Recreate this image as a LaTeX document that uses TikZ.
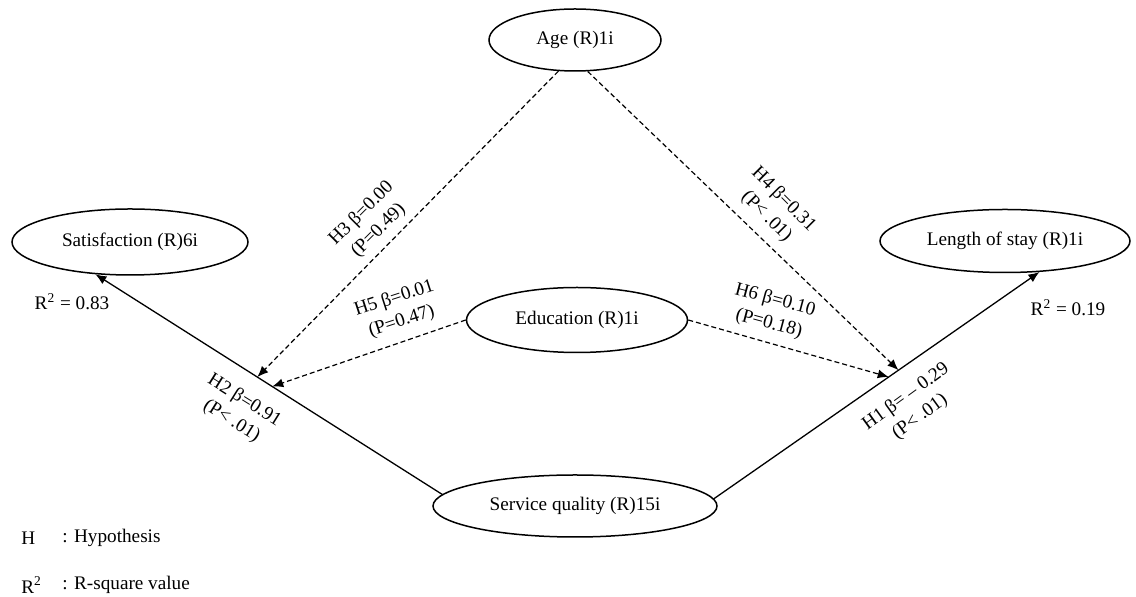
\documentclass[tikz,border=0pt]{standalone}
\usepackage{fontspec}
\setmainfont{Liberation Serif}
\usetikzlibrary{shapes.geometric,arrows.meta}

\begin{document}
\begin{tikzpicture}[
    x=0.5pt,y=-0.5pt,
    every node/.style={font=\fontsize{9.6}{12}\selectfont},
    var/.style={draw,ellipse,line width=0.75pt,inner sep=0pt},
    link/.style={-{Latex[length=5.5pt,width=4.5pt]},line width=0.65pt},
    weak/.style={-{Latex[length=5.5pt,width=4.5pt]},line width=0.6pt,
                 dash pattern=on 2.5pt off 1.5pt},
    coef/.style={align=center,inner sep=0pt},
    key/.style={anchor=west,inner sep=0pt},
  ]
    \useasboundingbox (0,0) rectangle (1136,597);

    % Variables
    \node[var,minimum width=86pt,minimum height=31pt]    (age)  at (575,40)  {Age (R)1i};
    \node[var,minimum width=118pt,minimum height=33pt]   (sat)  at (130,242) {Satisfaction (R)6i};
    \node[var,minimum width=125pt,minimum height=31.5pt] (los)  at (1005,241) {Length of stay (R)1i};
    \node[var,minimum width=110.5pt,minimum height=32.5pt] (edu) at (577,320) {Education (R)1i};
    \node[var,minimum width=142pt,minimum height=31pt]   (serv) at (575,506) {Service quality (R)15i};

    % Direct paths
    \draw[link] (serv.175) -- (sat.223)
      coordinate[pos=0.533] (h3end) coordinate[pos=0.49] (h5end);
    \draw[link] (serv.3) -- (los.318)
      coordinate[pos=0.567] (h4end) coordinate[pos=0.537] (h6end);

    % Moderating paths
    \draw[weak] (age.242) -- (h3end);
    \draw[weak] (age.292) -- (h4end);
    \draw[weak] (edu.west) -- (h5end);
    \draw[weak] (edu.east) -- (h6end);

    % Coefficients
    \node[coef,rotate=-32] (c2) at (238,411) {H2 β=0.91\\(P< .01)};
    \node[coef,rotate=36]  (c1) at (913,407) {H1 β= – 0.29\\(P< .01)};
    \node[coef,rotate=45]  (c3) at (370,222) {H3 β=0.00\\(P=0.49)};
    \node[coef,rotate=-45] (c4) at (775,208) {H4 β=0.31\\(P< .01)};
    \node[coef,rotate=18]  (c5) at (398,310) {H5 β=0.01\\(P=0.47)};
    \node[coef,rotate=-15] (c6) at (772,312) {H6 β=0.10\\(P=0.18)};

    % R-square
    \node (rsat) at (72,302)   {R\textsuperscript{2} = 0.83};
    \node (rlos) at (1068,308) {R\textsuperscript{2} = 0.19};

    % Legend
    \node[key] (kh)  at (21,538) {H};
    \node[key] (khd) at (62,538) {: Hypothesis};
    \node[key] (kr)  at (21,585) {R\textsuperscript{2}};
    \node[key] (krd) at (62,585) {: R-square value};

  \end{tikzpicture}
\end{document}
